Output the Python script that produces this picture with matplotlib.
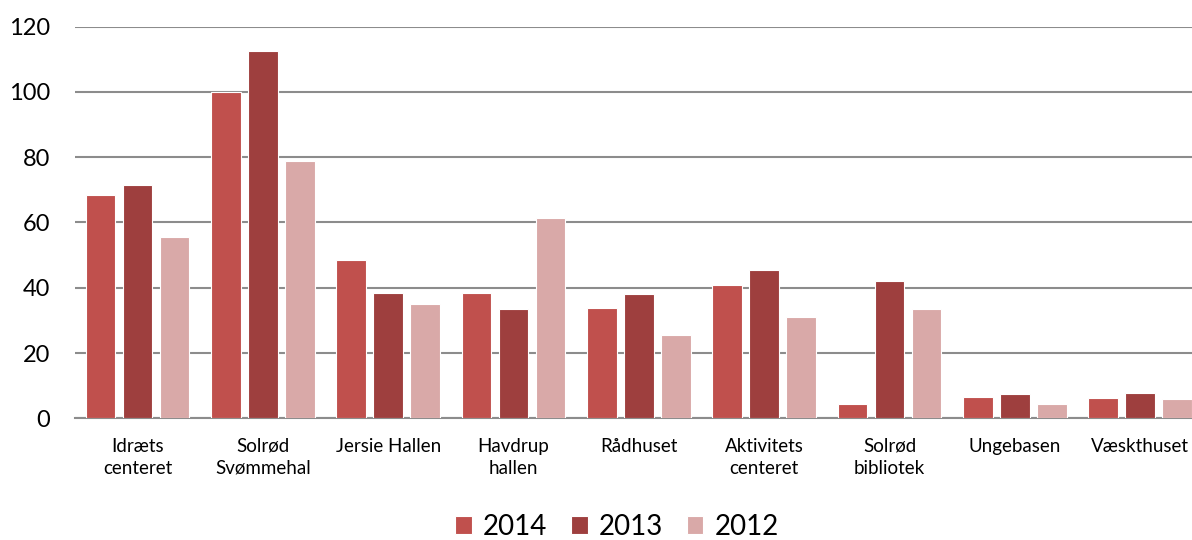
import matplotlib
matplotlib.use("Agg")
import matplotlib.pyplot as plt
import numpy as np

categories = ["Idræts\ncenteret", "Solrød\nSvømmehal", "Jersie Hallen", "Havdrup\nhallen",
              "Rådhuset", "Aktivitets\ncenteret", "Solrød\nbibliotek", "Ungebasen", "Væskthuset"]
series_names = ["2014", "2013", "2012"]
v2014 = [68.4, 100.0, 48.4, 38.3, 33.9, 40.9, 4.3, 6.4, 6.1]
v2013 = [71.5, 112.7, 38.5, 33.4, 38.0, 45.4, 42.2, 7.4, 7.9]
v2012 = [55.7, 78.8, 35.0, 61.4, 25.5, 31.1, 33.6, 4.5, 5.8]
colors = ["#C0504D", "#9E3F3E", "#D9A9A8"]
yticks = [0, 20, 40, 60, 80, 100, 120]

plt.rcParams['font.family'] = ['Lato', 'DejaVu Sans']

fig = plt.figure(figsize=(11.92, 5.40), dpi=100)
ax = fig.add_axes([74.8 / 1192, (540 - 418.3) / 540, 1128 / 1192, (418.3 - 26.7) / 540])

x = np.arange(len(categories))
step = 0.295
width = 0.238
for i, (vals, name, c) in enumerate(zip([v2014, v2013, v2012], series_names, colors)):
    ax.bar(x + (i - 1) * step, vals, width, color=c, label=name,
           edgecolor="white", linewidth=0.8, zorder=3)

ax.set_xlim(-0.5, len(categories) - 0.5)
ax.set_ylim(0, 120)
ax.set_yticks(yticks)
ax.set_yticklabels([str(t) for t in yticks], fontsize=17, color="black")
ax.set_xticks(x)
ax.set_xticklabels(categories, fontsize=13.5, linespacing=1.35)
ax.tick_params(axis='y', length=0, pad=18)
ax.tick_params(axis='x', length=0, pad=14)

ax.yaxis.grid(True, color="#8C8C8C", linewidth=1.5, zorder=0)
ax.set_axisbelow(True)
for s in ["top", "right", "left"]:
    ax.spines[s].set_visible(False)
ax.spines["bottom"].set_color("#8C8C8C")
ax.spines["bottom"].set_linewidth(1.5)

fig.legend(loc="center", bbox_to_anchor=(617 / 1192, (540 - 527) / 540), ncol=3, frameon=False,
           fontsize=20, handlelength=0.6, handleheight=0.6, handletextpad=0.4,
           columnspacing=0.85, borderaxespad=0)

fig.savefig("out.png", dpi=100)
